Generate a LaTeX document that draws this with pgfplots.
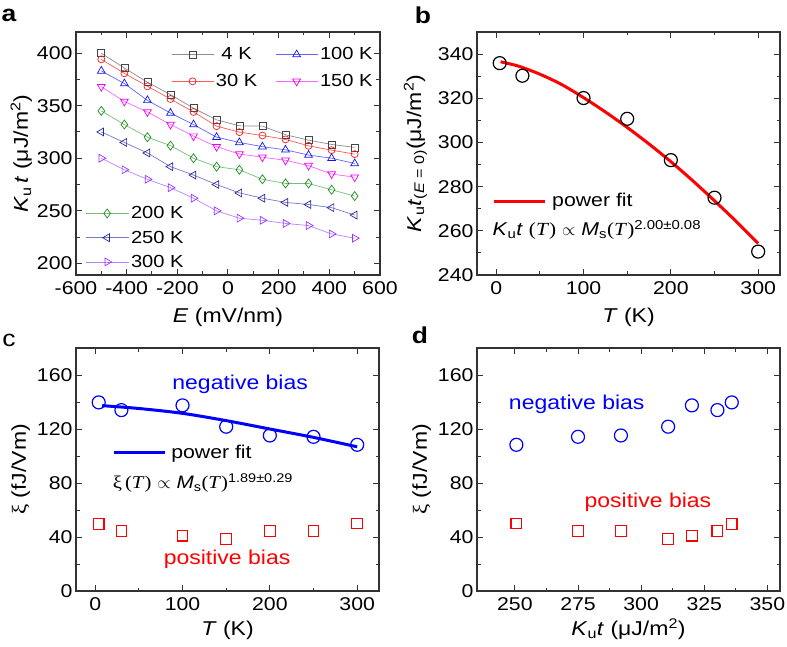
\documentclass[border=0pt]{standalone}
\usepackage{fontspec}
\setmainfont[FakeStretch=1.15]{Liberation Sans}
\newfontfamily\serifT[FakeStretch=1.15]{Liberation Serif}
\usepackage{pgfplots}
\pgfplotsset{compat=1.18}
\definecolor{cFour}{RGB}{70,70,70}
\definecolor{cFourL}{RGB}{140,140,140}
\definecolor{cThirty}{RGB}{240,30,30}
\definecolor{cThirtyL}{RGB}{255,90,90}
\definecolor{cHund}{RGB}{20,20,240}
\definecolor{cHundL}{RGB}{100,100,255}
\definecolor{cOneFifty}{RGB}{240,0,240}
\definecolor{cOneFiftyL}{RGB}{255,100,255}
\definecolor{cTwoH}{RGB}{30,140,30}
\definecolor{cTwoHL}{RGB}{120,190,120}
\definecolor{cTwoFifty}{RGB}{40,40,150}
\definecolor{cTwoFiftyL}{RGB}{120,120,200}
\definecolor{cThreeH}{RGB}{150,50,255}
\definecolor{cThreeHL}{RGB}{185,130,255}
\pgfplotsset{
  panel/.style={
    scale only axis, width=303pt, height=243pt,
    axis line style={line width=1.1pt, black!80},
    tick style={line width=1pt, black!80},
    major tick length=6pt, minor tick length=3.5pt,
    tick label style={font=\fontsize{18.5}{20}\selectfont},
    xticklabel style={yshift=-3pt},
    label style={font=\fontsize{20}{22}\selectfont},
    /pgf/number format/assume math mode=true,
    /pgf/number format/1000 sep={},
    minor x tick num=1, minor y tick num=1,
  },
  aline/.style={line width=0.7pt, mark size=3.5pt, mark options={solid, line width=0.9pt}},
}
\begin{document}
\begin{tikzpicture}[x=1pt,y=1pt]
\useasboundingbox (0,0) rectangle (787,646);
% panel labels
\node[font=\fontsize{23}{24}\selectfont\bfseries] at (9,631) {a};
\node[font=\fontsize{23}{24}\selectfont\bfseries] at (423,631) {b};
\node[font=\fontsize{23}{24}\selectfont] at (9,306) {c};
\node[font=\fontsize{23}{24}\selectfont\bfseries] at (420,311) {d};

% ---------------- panel a
\begin{axis}[panel, at={(76pt,371pt)}, anchor=south west, width=304pt,
  xmin=-600, xmax=600, ymin=189, ymax=420,
  xtick={-600,-400,-200,0,200,400,600},
  xticklabels={-600,-400,-200,0,200,400,600},
  ytick={200,250,300,350,400},
  xlabel={\textit{E} (mV/nm)}, xlabel style={yshift=-7pt},
  ylabel={\textit{K}\textsubscript{u}\,\textit{t} (μJ/m\textsuperscript{2})},
  ylabel style={yshift=-2pt},
]
\addplot[aline, color=cFourL, mark=square, mark options={draw=cFour}] coordinates {(-500,399.7)(-409,385.8)(-318,372.2)(-227,360.5)(-136,347.5)(-45,336.5)(45,330.8)(136,330.5)(227,322.3)(318,317.2)(409,313.1)(500,310.3)};
\addplot[aline, color=cThirtyL, mark=o, mark options={draw=cThirty}] coordinates {(-500,394)(-409,380.7)(-318,368.4)(-227,356.3)(-136,344)(-45,330.5)(45,324.8)(136,321.6)(227,317.9)(318,311.8)(409,307.7)(500,303.9)};
\addplot[aline, color=cHundL, mark=triangle, mark size=4.5pt, mark options={draw=cHund}] coordinates {(-500,383)(-409,371)(-318,355)(-227,343)(-136,332)(-45,320)(45,315)(136,311)(227,308)(318,303)(409,300)(500,295)};
\addplot[aline, color=cOneFiftyL, mark=triangle, mark size=4.5pt, mark options={draw=cOneFifty, rotate=180}] coordinates {(-500,368)(-409,354)(-318,344)(-227,332)(-136,321)(-45,311)(45,304)(136,301)(227,298)(318,293)(409,285)(500,282)};
\addplot[aline, color=cTwoHL, mark=diamond, mark size=4.5pt, mark options={draw=cTwoH}] coordinates {(-500,345)(-409,332)(-318,320)(-227,312)(-136,300)(-45,292)(45,289)(136,280)(227,276)(318,276)(409,270)(500,264)};
\addplot[aline, color=cTwoFiftyL, mark=triangle, mark size=4.5pt, mark options={draw=cTwoFifty, rotate=90}] coordinates {(-500,325)(-409,315)(-318,305)(-227,292)(-136,284)(-45,275)(45,267)(136,262)(227,258)(318,256)(409,253)(500,246)};
\addplot[aline, color=cThreeHL, mark=triangle, mark size=4.5pt, mark options={draw=cThreeH, rotate=-90}] coordinates {(-500,300)(-409,289)(-318,280)(-227,272)(-136,262)(-45,250)(45,243)(136,241)(227,238)(318,236)(409,228)(500,224)};
\end{axis}
% legend top
\begin{axis}[at={(76pt,371pt)}, anchor=south west, scale only axis, width=304pt, height=243pt,
  hide axis, xmin=0, xmax=1, ymin=0, ymax=1, legend columns=2,
  legend image code/.code={\draw[mark repeat=2,mark phase=2] plot coordinates {(0pt,0pt)(21pt,0pt)(42pt,0pt)};},
  legend style={draw=none, fill=none, inner sep=0pt, at={(0.3125,0.852)}, anchor=west,
    font=\fontsize{17.5}{18}\selectfont, row sep=9pt,
    /tikz/every even column/.append style={column sep=16pt}},
]
\addlegendimage{aline, color=cFourL, mark=square, mark options={draw=cFour}}\addlegendentry{4 K}
\addlegendimage{aline, color=cHundL, mark=triangle, mark size=4.5pt, mark options={draw=cHund}}\addlegendentry{100 K}
\addlegendimage{aline, color=cThirtyL, mark=o, mark options={draw=cThirty}}\addlegendentry{30 K}
\addlegendimage{aline, color=cOneFiftyL, mark=triangle, mark size=4.5pt, mark options={draw=cOneFifty, rotate=180}}\addlegendentry{150 K}
\end{axis}
% legend bottom
\begin{axis}[at={(76pt,371pt)}, anchor=south west, scale only axis, width=304pt, height=243pt,
  hide axis, xmin=0, xmax=1, ymin=0, ymax=1,
  legend image code/.code={\draw[mark repeat=2,mark phase=2] plot coordinates {(0pt,0pt)(21.5pt,0pt)(43pt,0pt)};},
  legend style={draw=none, fill=none, inner sep=0pt, at={(0.03,0.1535)}, anchor=west,
    font=\fontsize{17.5}{18}\selectfont, row sep=6.5pt},
]
\addlegendimage{aline, color=cTwoHL, mark=diamond, mark size=4.5pt, mark options={draw=cTwoH}}\addlegendentry{200 K}
\addlegendimage{aline, color=cTwoFiftyL, mark=triangle, mark size=4.5pt, mark options={draw=cTwoFifty, rotate=90}}\addlegendentry{250 K}
\addlegendimage{aline, color=cThreeHL, mark=triangle, mark size=4.5pt, mark options={draw=cThreeH, rotate=-90}}\addlegendentry{300 K}
\end{axis}

% ---------------- panel b
\begin{axis}[panel, at={(477pt,371pt)}, anchor=south west,
  xmin=-22, xmax=325, ymin=240, ymax=350,
  xtick={0,100,200,300}, ytick={240,260,280,300,320,340},
  xlabel={\textit{T} (K)}, xlabel style={yshift=-7pt},
  ylabel={\textit{K}\textsubscript{u}\textit{t}\textsubscript{(\textit{E} = 0)}(μJ/m\textsuperscript{2})},
  ylabel style={yshift=4pt},
  legend image code/.code={\draw (0pt,0pt) -- (51pt,0pt);},
  legend style={draw=none, fill=none, inner sep=0pt, at={(0.0495,0.3045)}, anchor=west,
    font=\fontsize{18.5}{19}\selectfont},
]
\addplot[only marks, mark=o, mark size=6.5pt, mark options={line width=1.2pt}, black, forget plot] coordinates {(4,335.9)(30,330.2)(100,320.1)(150,310.7)(200,292)(250,275)(300,250.6)};
\addplot[red, line width=3pt, smooth] coordinates {(5,336.5)(25,334.6)(50,330.9)(75,326.2)(100,320.3)(125,313.8)(150,306.8)(175,299.3)(200,291.3)(225,282.7)(250,273.6)(275,264.2)(300,254.3)};
\addlegendentry{\hspace{4pt}power fit}
\node[anchor=west, font=\fontsize{18.5}{19}\selectfont] at (rel axis cs:0.04,0.185) {\textit{K}\textsubscript{u}\textit{t} {\serifT(\textit{T})} $\propto$ \textit{M}\textsubscript{s}{\serifT(\textit{T})}\textsuperscript{2.00±0.08}};
\end{axis}

% ---------------- panel c
\begin{axis}[panel, at={(76pt,55pt)}, anchor=south west,
  xmin=-22, xmax=325, ymin=0, ymax=180,
  xtick={0,100,200,300}, ytick={0,40,80,120,160},
  xlabel={\textit{T} (K)}, xlabel style={yshift=-4pt},
  ylabel={{\serifT ξ} (fJ/Vm)},
  legend image code/.code={\draw (0pt,0pt) -- (51pt,0pt);},
  legend style={draw=none, fill=none, inner sep=0pt, at={(0.119,0.569)}, anchor=west,
    font=\fontsize{18.5}{19}\selectfont},
]
\addplot[only marks, mark=o, mark size=6.5pt, mark options={line width=1.2pt}, blue, forget plot] coordinates {(4,139.7)(30,134)(100,137.5)(150,121.7)(200,115.2)(250,114.2)(300,108.3)};
\addplot[only marks, mark=square, mark size=5.3pt, mark options={line width=1.2pt}, red, forget plot] coordinates {(4,49.5)(30,44.3)(100,41)(150,38.6)(200,44.3)(250,44.3)(300,50)};
\addplot[blue, line width=3pt, smooth] coordinates {(8,137.3)(50,135.2)(100,131.6)(150,126.2)(200,120)(250,113.8)(300,106.8)};
\addlegendentry{\hspace{3pt}power fit}
\node[blue, font=\fontsize{20}{21}\selectfont] at (axis cs:166,153) {negative bias};
\node[red, font=\fontsize{20}{21}\selectfont] at (axis cs:151,23.2) {positive bias};
\node[anchor=west, font=\fontsize{18}{19}\selectfont] at (rel axis cs:0.11,0.444) {{\serifT ξ\,(\textit{T})} $\propto$ \textit{M}\textsubscript{s}{\serifT(\textit{T})}\textsuperscript{1.89±0.29}};
\end{axis}

% ---------------- panel d
\begin{axis}[panel, at={(477pt,55pt)}, anchor=south west,
  xmin=235, xmax=355, ymin=0, ymax=180,
  xtick={250,275,300,325,350}, ytick={0,40,80,120,160},
  xlabel={\textit{K}\textsubscript{u}\textit{t} (μJ/m\textsuperscript{2})}, xlabel style={yshift=-1pt},
  ylabel={{\serifT ξ} (fJ/Vm)},
]
\addplot[only marks, mark=o, mark size=6.5pt, mark options={line width=1.2pt}, blue] coordinates {(250.6,108.3)(275,114.2)(292,115.2)(310.7,121.7)(320.1,137.5)(330.2,134)(335.9,139.7)};
\addplot[only marks, mark=square, mark size=5.3pt, mark options={line width=1.2pt}, red] coordinates {(250.6,50)(275,44.3)(292,44.3)(310.7,38.6)(320.1,41)(330.2,44.3)(335.9,49.5)};
\node[blue, font=\fontsize{20}{21}\selectfont] at (axis cs:274.5,138) {negative bias};
\node[red, font=\fontsize{20}{21}\selectfont] at (axis cs:302.7,65.4) {positive bias};
\end{axis}
\end{tikzpicture}
\end{document}
